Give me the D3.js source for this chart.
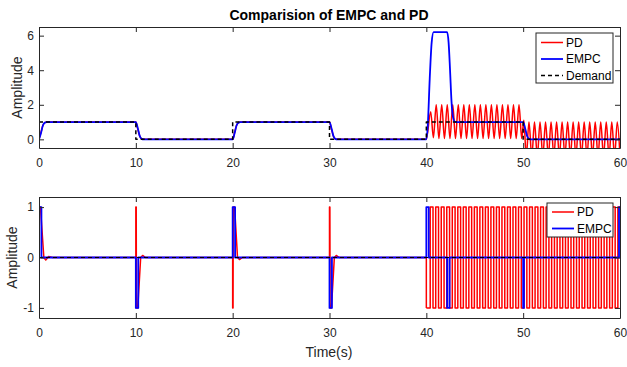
<!DOCTYPE html>
<html>
<head>
<meta charset="utf-8">
<script src="https://cdn.jsdelivr.net/npm/d3@7"></script>
<style>
body { margin: 0; background: #fff; }
svg { font-family: "Liberation Sans", Arial, sans-serif; }
.axis path, .axis line { stroke: #262626; stroke-width: 1; }
.axis text { fill: #262626; font-size: 12px; }
</style>
</head>
<body>
<div id="chart"></div>
<script>
// ---- data ----
var title = "Comparision of EMPC and PD";
var xLabel = "Time(s)";
var yLabel = "Amplitude";
var xDomain = [0, 60];
var xTicks = [0, 10, 20, 30, 40, 50, 60];
var topYTicks = [0, 2, 4, 6];
var bottomYTicks = [-1, 0, 1];
var topLegend = ["PD", "EMPC", "Demand"];
var bottomLegend = ["PD", "EMPC"];

// top panel: output position [time, value]
var pdTop = [
	[0,0],[0.2,0.4],[0.4,0.8],[0.6,0.97],[0.8,1],[1,1],
	[10,1],[10.2,0.6],[10.4,0.2],[10.6,0.03],[10.8,0],[11,0],
	[20,0],[20.2,0.4],[20.4,0.8],[20.6,0.97],[20.8,1],[21,1],
	[30,1],[30.2,0.6],[30.4,0.2],[30.6,0.03],[30.8,0],[31,0],
	[40,0],[40.45,1.6],[40.73,0.1],
	[41.02,2],[41.30,0.05],[41.59,2],[41.87,0.05],[42.16,2],[42.44,0.05],[42.73,2],[43.01,0.05],
	[43.30,2],[43.58,0.05],[43.87,2],[44.15,0.05],[44.44,2],[44.72,0.05],[45.01,2],[45.29,0.05],
	[45.58,2],[45.86,0.05],[46.15,2],[46.43,0.05],[46.72,2],[47.00,0.05],[47.29,2],[47.57,0.05],
	[47.86,2],[48.14,0.05],[48.43,2],[48.71,0.05],[49.00,2],[49.28,0.05],[49.57,2],[49.85,0.05],
	[50.07,1.1],[50.32,-1],[50.6,1],[50.89,-1],[51.17,1],[51.46,-1],[51.74,1],[52.03,-1],
	[52.31,1],[52.6,-1],[52.88,1],[53.17,-1],[53.45,1],[53.74,-1],[54.02,1],[54.31,-1],
	[54.59,1],[54.88,-1],[55.16,1],[55.45,-1],[55.73,1],[56.02,-1],[56.3,1],[56.59,-1],
	[56.87,1],[57.16,-1],[57.44,1],[57.73,-1],[58.01,1],[58.3,-1],[58.58,1],[58.87,-1],
	[59.15,1],[59.44,-1],[59.72,1],[60,-1]
];
var empcTop = [
	[0,0],[0.2,0.35],[0.4,0.8],[0.6,0.97],[0.8,1],[1,1],
	[10,1],[10.2,0.65],[10.4,0.2],[10.6,0.03],[10.8,0],[11,0],
	[20,0],[20.2,0.35],[20.4,0.8],[20.6,0.97],[20.8,1],[21,1],
	[30,1],[30.2,0.65],[30.4,0.2],[30.6,0.03],[30.8,0],[31,0],
	[40,0],[40.15,0.8],[40.35,3.5],[40.55,5.6],[40.75,6.2],
	[42.15,6.2],[42.3,5.6],[42.45,4],[42.6,2.2],[42.75,1.3],[42.95,1.02],[43.1,1],
	[50,1],[50.2,0.65],[50.4,0.2],[50.6,0.03],[50.8,0],[51,0],[60,0]
];
var demandTop = [[0,1],[10,0],[20,1],[30,0],[40,1],[50,0],[60,0]];

// bottom panel: control effort
var pdBottomSpikes = [
	[0,1],[0.15,1],[0.5,0],[0.7,-0.05],[1,0.02],[1.4,0],
	[10,0],[10,1],[10.04,1],[10.06,-1],[10.2,-1],[10.5,0],[10.7,0.04],[11,0],
	[20,0],[20,-1],[20.04,-1],[20.06,1],[20.2,1],[20.5,0],[20.7,-0.04],[21,0],
	[30,0],[30,1],[30.04,1],[30.06,-1],[30.2,-1],[30.5,0],[30.7,0.04],[31,0],
	[40,0],[40,-1]
];
// saturated switching after 40 s: [switch time, level held after it]
var pdBottomSwitch = [
	[40,-1],[40.40,1],[40.69,-1],[40.97,1],[41.26,-1],[41.54,1],[41.83,-1],[42.11,1],[42.40,-1],
	[42.68,1],[42.97,-1],[43.25,1],[43.54,-1],[43.82,1],[44.11,-1],[44.39,1],[44.68,-1],
	[44.96,1],[45.25,-1],[45.53,1],[45.82,-1],[46.10,1],[46.39,-1],[46.67,1],[46.96,-1],
	[47.24,1],[47.53,-1],[47.81,1],[48.10,-1],[48.38,1],[48.67,-1],[48.95,1],[49.24,-1],
	[49.52,1],[49.81,-1],[50.09,1],[50.38,-1],[50.66,1],[50.95,-1],[51.23,1],[51.52,-1],
	[51.80,1],[52.09,-1],[52.37,1],[52.66,-1],[52.94,1],[53.23,-1],[53.51,1],[53.80,-1],
	[54.08,1],[54.37,-1],[54.65,1],[54.94,-1],[55.22,1],[55.51,-1],[55.79,1],[56.08,-1],
	[56.36,1],[56.65,-1],[56.93,1],[57.22,-1],[57.50,1],[57.79,-1],[58.07,1],[58.36,-1],
	[58.64,1],[58.93,-1],[59.21,1],[59.50,-1],[59.78,1],[60,1]
];
var empcBottom = [
	[0,1],[0.25,0],[10,-1],[10.25,0],[20,1],[20.25,0],[30,-1],[30.25,0],
	[40,1],[40.25,0],[42.15,-1],[42.4,0],[50,-1],[50.08,0],[59.9,1],[60,1]
];
var zeroBottom = [[0,0],[60,0]];

var colors = { pd: "#ff0000", empc: "#0000ff", demand: "#000000" };

// plain numbers with a hyphen minus like matlab
var numFmt = function(d) { return String(d); };

var svg = d3.select("#chart").append("svg")
	.attr("width", 627)
	.attr("height", 367);

var drawPanel = function(p) {

	var x = d3.scaleLinear().domain(xDomain).range([p.left, p.right]);
	var y = d3.scaleLinear().domain(p.yDomain).range([p.bottom, p.top]);

	// clip for the data
	svg.append("clipPath").attr("id", p.id)
	.append("rect")
	.attr("x", p.left).attr("y", p.top)
	.attr("width", p.right - p.left).attr("height", p.bottom - p.top);

	var plot = svg.append("g").attr("clip-path", "url(#" + p.id + ")");

	p.series.forEach(function(s) {
		var line = d3.line()
		.x(function(d) { return x(d[0]); })
		.y(function(d) { return y(d[1]); })
		.curve(s.curve);
		plot.append("path")
		.datum(s.data)
		.attr("fill", "none")
		.attr("stroke", s.color)
		.attr("stroke-width", s.width)
		.attr("stroke-dasharray", s.dash || null)
		.attr("stroke-linejoin", "round")
		.attr("d", line);
	});

	// axes, ticks pointing inside like matlab
	svg.append("g").attr("class", "axis")
	.attr("transform", "translate(0," + p.bottom + ")")
	.call(d3.axisBottom(x).tickValues(xTicks).tickFormat(numFmt).tickSizeInner(-5).tickSizeOuter(0).tickPadding(10));
	svg.append("g").attr("class", "axis")
	.attr("transform", "translate(0," + p.top + ")")
	.call(d3.axisTop(x).tickValues(xTicks).tickSizeInner(-5).tickSizeOuter(0).tickFormat(""));
	svg.append("g").attr("class", "axis")
	.attr("transform", "translate(" + p.left + ",0)")
	.call(d3.axisLeft(y).tickValues(p.yTicks).tickFormat(numFmt).tickSizeInner(-5).tickSizeOuter(0).tickPadding(5));
	svg.append("g").attr("class", "axis")
	.attr("transform", "translate(" + p.right + ",0)")
	.call(d3.axisRight(y).tickValues(p.yTicks).tickSizeInner(-5).tickSizeOuter(0).tickFormat(""));

	// y label
	svg.append("text")
	.attr("transform", "translate(" + p.yLabelX + "," + ((p.top + p.bottom) / 2) + ")rotate(-90)")
	.attr("text-anchor", "middle")
	.attr("font-size", 14)
	.attr("fill", "#262626")
	.text(yLabel);

	// legend
	var lg = p.legend;
	var leg = svg.append("g");
	leg.append("rect")
	.attr("x", lg.x).attr("y", lg.y)
	.attr("width", lg.w).attr("height", lg.h)
	.attr("fill", "#fff")
	.attr("stroke", "#262626")
	.attr("stroke-width", 1);
	lg.names.forEach(function(name, i) {
		var s = p.series.filter(function(d) { return d.name === name; })[0];
		var ly = lg.y + lg.first + i * lg.step;
		leg.append("line")
		.attr("x1", lg.x + lg.pad).attr("x2", lg.x + lg.pad + 22)
		.attr("y1", ly).attr("y2", ly)
		.attr("stroke", s.color)
		.attr("stroke-width", s.width)
		.attr("stroke-dasharray", s.dash || null);
		leg.append("text")
		.attr("x", lg.x + lg.pad + 25)
		.attr("y", ly)
		.attr("dy", "0.35em")
		.attr("font-size", 12)
		.attr("fill", "#000")
		.text(name);
	});
}

drawPanel({
	id: "clipTop",
	left: 39, right: 620, top: 27, bottom: 148,
	yDomain: [-0.5, 6.5],
	yTicks: topYTicks,
	yLabelX: 22,
	series: [
		{ name: "PD", data: pdTop, color: colors.pd, width: 1.5, curve: d3.curveMonotoneX },
		{ name: "EMPC", data: empcTop, color: colors.empc, width: 1.8, curve: d3.curveMonotoneX },
		{ name: "Demand", data: demandTop, color: colors.demand, width: 1.5, dash: "4,3", curve: d3.curveStepAfter }
	],
	legend: { names: topLegend, x: 536, y: 33, w: 77, h: 50, pad: 5, first: 9.5, step: 16.5 }
});

drawPanel({
	id: "clipBottom",
	left: 39, right: 620, top: 197, bottom: 318,
	yDomain: [-1.2, 1.2],
	yTicks: bottomYTicks,
	yLabelX: 17,
	series: [
		{ name: "PD", data: pdBottomSpikes, color: colors.pd, width: 1.5, curve: d3.curveLinear },
		{ name: "PDsw", data: pdBottomSwitch, color: colors.pd, width: 1.5, curve: d3.curveStepAfter },
		{ name: "EMPC", data: empcBottom, color: colors.empc, width: 1.8, curve: d3.curveStepAfter },
		{ name: "zero", data: zeroBottom, color: colors.demand, width: 1, dash: "4,3", curve: d3.curveLinear }
	],
	legend: { names: bottomLegend, x: 547, y: 203, w: 66, h: 34, pad: 5, first: 9, step: 16.5 }
});

// title and x label
svg.append("text")
.attr("x", 329).attr("y", 20)
.attr("text-anchor", "middle")
.attr("font-size", 14)
.attr("font-weight", "bold")
.attr("fill", "#000")
.text(title);

svg.append("text")
.attr("x", 329).attr("y", 357)
.attr("text-anchor", "middle")
.attr("font-size", 14)
.attr("fill", "#262626")
.text(xLabel);
</script>
</body>
</html>
